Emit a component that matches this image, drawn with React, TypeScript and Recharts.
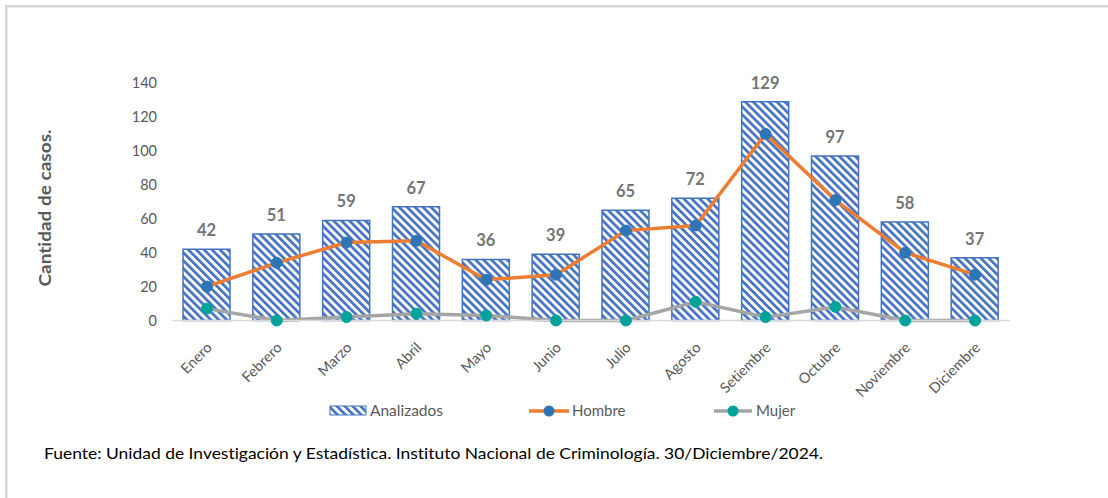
import React from "react";
import { ComposedChart, Bar, Line, XAxis, YAxis, LabelList } from "recharts";

const months = ["Enero", "Febrero", "Marzo", "Abril", "Mayo", "Junio", "Julio", "Agosto", "Setiembre", "Octubre", "Noviembre", "Diciembre"];
const analizados = [42, 51, 59, 67, 36, 39, 65, 72, 129, 97, 58, 37];
const hombre = [20, 34, 46, 47, 24, 27, 53, 56, 110, 71, 40, 27];
const mujer = [7, 0, 2, 4, 3, 0, 0, 11, 2, 8, 0, 0];
const yTicks = [0, 20, 40, 60, 80, 100, 120, 140];

const data = months.map((m, i) => ({ mes: m, Analizados: analizados[i], Hombre: hombre[i], Mujer: mujer[i] }));

const FONT = "Lato, 'Liberation Sans', sans-serif";
const BLUE = "#4472c4";
const ORANGE = "#ed7d31";
const DOT_BLUE = "#2e75b6";
const GRAY = "#a5a5a5";
const TEAL = "#00a39b";
const TEXT = "#595959";

const MonthTick = (props: any) => {
  const { x, y, payload } = props;
  return (
    <g transform={`translate(${x + 6},${y + 20})`}>
      <text x={0} y={0} textAnchor="end" transform="rotate(-45)" fill={TEXT} fontSize={14.5} fontFamily={FONT}>
        {payload.value}
      </text>
    </g>
  );
};

const Stripes = ({ id }: { id: string }) => (
  <pattern id={id} patternUnits="userSpaceOnUse" width={5.6} height={5.6} patternTransform="rotate(-45)">
    <rect x={0} y={0} width={5.6} height={5.6} fill="#ffffff" />
    <rect x={0} y={0} width={2.7} height={5.6} fill={BLUE} />
  </pattern>
);

export default function App() {
  return (
    <div style={{ position: "absolute", left: 0, top: 0, width: 1108, height: 498, background: "#ffffff", overflow: "hidden", fontVariantLigatures: "none" }}>
      <ComposedChart width={1108} height={498} data={data} margin={{ top: 83, right: 98, left: 0, bottom: 117.5 }}>
        <defs>
          <Stripes id="stripes" />
        </defs>
        <XAxis
          dataKey="mes"
          height={60}
          interval={0}
          tick={<MonthTick />}
          tickLine={false}
          axisLine={{ stroke: "#d9d9d9", strokeWidth: 1.5 }}
        />
        <YAxis
          width={172}
          domain={[0, 140]}
          ticks={yTicks}
          axisLine={false}
          tickLine={false}
          tickSize={0}
          tickMargin={15}
          tick={{ fill: TEXT, fontSize: 14.5, fontFamily: FONT }}
        />
        <Bar dataKey="Analizados" barSize={47} fill="url(#stripes)" stroke={BLUE} strokeWidth={1.5} isAnimationActive={false}>
          <LabelList dataKey="Analizados" position="top" offset={13} fill="#757575" fontSize={16.5} fontWeight="bold" fontFamily={FONT} />
        </Bar>
        <Line
          dataKey="Hombre"
          type="linear"
          stroke={ORANGE}
          strokeWidth={3.5}
          dot={{ r: 5.5, fill: DOT_BLUE, stroke: DOT_BLUE, strokeWidth: 1 }}
          isAnimationActive={false}
        />
        <Line
          dataKey="Mujer"
          type="linear"
          stroke={GRAY}
          strokeWidth={3.5}
          dot={{ r: 5.5, fill: TEAL, stroke: TEAL, strokeWidth: 1 }}
          isAnimationActive={false}
        />
      </ComposedChart>
      <svg width={1108} height={498} style={{ position: "absolute", left: 0, top: 0, pointerEvents: "none", fontVariantLigatures: "none" }}>
        <defs>
          <Stripes id="stripesLegend" />
        </defs>
        <rect x={5} y={5} width={1103} height={2.5} fill="#d6d6d6" />
        <rect x={5} y={5} width={2.5} height={493} fill="#d6d6d6" />
        <text
          x={0}
          y={0}
          transform="translate(51,208) rotate(-90)"
          textAnchor="middle"
          fill={TEXT}
          fontSize={17.5}
          fontWeight="bold"
          fontFamily={FONT}
          textLength={157}
          lengthAdjust="spacingAndGlyphs"
        >
          Cantidad de casos.
        </text>
        <rect x={330} y={406} width={36} height={9} fill="url(#stripesLegend)" stroke={BLUE} strokeWidth={1} />
        <text x={370} y={416} fill={TEXT} fontSize={15} fontFamily={FONT} textLength={73} lengthAdjust="spacingAndGlyphs">Analizados</text>
        <line x1={529} y1={411} x2={569} y2={411} stroke={ORANGE} strokeWidth={3.5} />
        <circle cx={549} cy={411} r={5.5} fill={DOT_BLUE} />
        <text x={572} y={416} fill={TEXT} fontSize={15} fontFamily={FONT}>Hombre</text>
        <line x1={714} y1={411} x2={752} y2={411} stroke={GRAY} strokeWidth={3.5} />
        <circle cx={733} cy={411} r={5.5} fill={TEAL} />
        <text x={756} y={416} fill={TEXT} fontSize={15} fontFamily={FONT}>Mujer</text>
        <text x={44} y={459} fill="#000000" fontSize={16} fontFamily={FONT} textLength={779} lengthAdjust="spacingAndGlyphs">
          Fuente: Unidad de Investigación y Estadística. Instituto Nacional de Criminología. 30/Diciembre/2024.
        </text>
      </svg>
    </div>
  );
}
